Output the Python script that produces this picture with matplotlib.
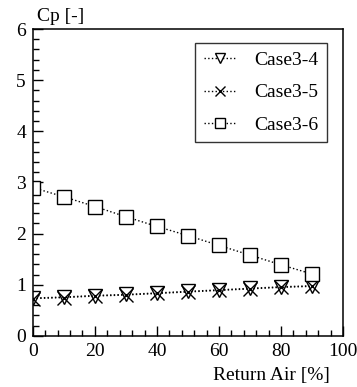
import numpy as np
import matplotlib; matplotlib.use('Agg'); import matplotlib.pyplot as plt
from matplotlib.ticker import MultipleLocator

plt.rcParams['font.family'] = ['Liberation Serif', 'DejaVu Serif']

return_air = [0, 10, 20, 30, 40, 50, 60, 70, 80, 90]
case3_4 = [0.74, 0.76, 0.79, 0.81, 0.84, 0.87, 0.90, 0.93, 0.96, 0.98]
case3_5 = [0.73, 0.75, 0.78, 0.80, 0.83, 0.86, 0.89, 0.92, 0.95, 0.97]
case3_6 = [2.90, 2.72, 2.53, 2.33, 2.14, 1.96, 1.77, 1.58, 1.39, 1.21]

fig = plt.figure(figsize=(3.57, 3.87), dpi=100, facecolor='white')
ax = fig.add_axes([0.092, 0.132, 0.869, 0.793])

kw = dict(color='black', linestyle=':', linewidth=1.0, markerfacecolor='white',
          markeredgecolor='black', markeredgewidth=1.0)
ax.plot(return_air, case3_4, marker='v', markersize=9.5, label='Case3-4', **kw)
ax.plot(return_air, case3_5, marker='x', markersize=9.5, label='Case3-5', **kw)
ax.plot(return_air, case3_6, marker='s', markersize=9.5, label='Case3-6', **kw)

ax.set_xlim(0, 100)
ax.set_ylim(0, 6)
ax.xaxis.set_major_locator(MultipleLocator(20))
ax.xaxis.set_minor_locator(MultipleLocator(4))
ax.yaxis.set_major_locator(MultipleLocator(1))
ax.yaxis.set_minor_locator(MultipleLocator(0.2))
ax.tick_params(which='both', direction='in', top=False, right=False, labelsize=14, pad=5)
ax.tick_params(which='major', length=7, width=1)
ax.tick_params(which='minor', length=4, width=1)
for s in ax.spines.values():
    s.set_linewidth(1.1)

fig.text(0.105, 0.935, 'Cp [-]', fontsize=14, ha='left', va='bottom')
fig.text(0.925, 0.008, 'Return Air [%]', fontsize=14, ha='right', va='bottom')

leg = ax.legend(loc='upper right', bbox_to_anchor=(0.947, 0.955), fontsize=14, frameon=True,
                fancybox=False, edgecolor='black', handlelength=1.6, borderpad=0.45,
                labelspacing=0.75, handletextpad=0.95, markerscale=0.8, borderaxespad=0)
leg.get_frame().set_linewidth(1.0)

plt.savefig('out.png', dpi=100, facecolor='white')
